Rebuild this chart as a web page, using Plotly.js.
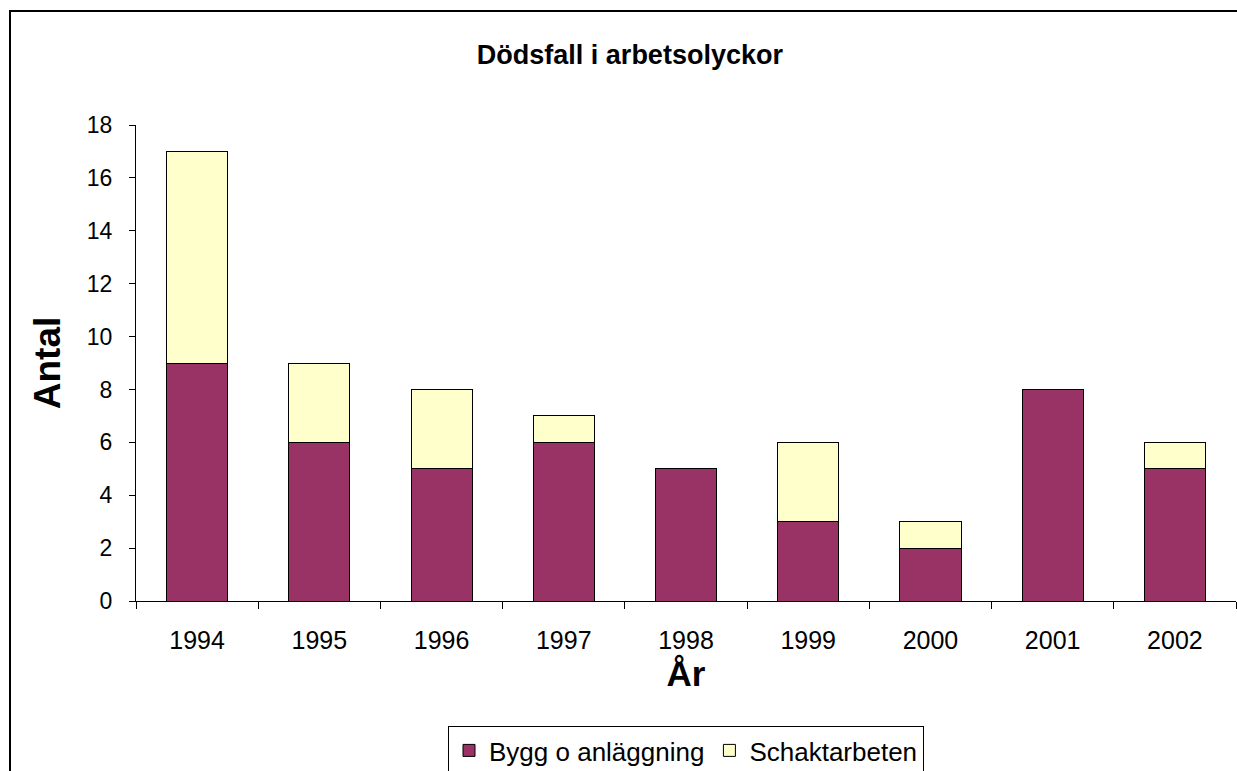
<!DOCTYPE html>
<html>
<head>
<meta charset="utf-8">
<script src="https://cdn.plot.ly/plotly-3.0.1.min.js"></script>
<style>
  html, body { margin: 0; padding: 0; background: #fff; }
  #chart { width: 1237px; height: 771px; }
</style>
</head>
<body>
<div id="chart"></div>
<script>
const years = ["1994", "1995", "1996", "1997", "1998", "1999", "2000", "2001", "2002"];
const byggAnlaggning = [9, 6, 5, 6, 5, 3, 2, 8, 5];
const schaktarbeten = [8, 3, 3, 1, 0, 3, 1, 0, 1];
const yTickValues = [0, 2, 4, 6, 8, 10, 12, 14, 16, 18];
const seriesNames = ["Bygg o anläggning", "Schaktarbeten"];

const FONT = "Liberation Sans, Arial, sans-serif";

const traces = [
  {
    type: "bar",
    name: seriesNames[0],
    x: years,
    y: byggAnlaggning,
    marker: { color: "#993366", line: { color: "#000000", width: 1 } },
    hoverinfo: "x+y+name"
  },
  {
    type: "bar",
    name: seriesNames[1],
    x: years,
    y: schaktarbeten,
    marker: { color: "#FFFFCC", line: { color: "#000000", width: 1 } },
    hoverinfo: "x+y+name"
  }
];

const layout = {
  width: 1237,
  height: 771,
  margin: { l: 136, r: 1, t: 125, b: 170, pad: 0, autoexpand: false },
  paper_bgcolor: "#ffffff",
  plot_bgcolor: "#ffffff",
  barmode: "stack",
  bargap: 0.5,
  font: { family: FONT, color: "#000000" },
  title: {
    text: "<b>Dödsfall i arbetsolyckor</b>",
    font: { family: FONT, size: 27, color: "#000000" },
    xref: "paper",
    x: 0.449,
    xanchor: "center",
    yref: "container",
    y: 1 - 55 / 771,
    yanchor: "middle"
  },
  xaxis: {
    type: "category",
    range: [-0.5, 8.5],
    automargin: false,
    showline: true,
    linecolor: "#000000",
    linewidth: 1,
    ticks: "outside",
    tickson: "boundaries",
    ticklen: 7,
    tickcolor: "#000000",
    tickfont: { family: FONT, size: 25, color: "#000000" },
    ticklabelstandoff: 17,
    showgrid: false,
    zeroline: false,
    title: {
      text: "<b>År</b>",
      font: { family: FONT, size: 35, color: "#000000" },
      standoff: 0
    },
    fixedrange: true
  },
  yaxis: {
    range: [0, 18],
    tickvals: yTickValues,
    automargin: false,
    showline: true,
    linecolor: "#000000",
    linewidth: 1,
    ticks: "outside",
    ticklen: 6,
    tickcolor: "#000000",
    tickfont: { family: FONT, size: 23, color: "#000000" },
    ticklabelstandoff: 12,
    showgrid: false,
    zeroline: false,
    title: {
      text: "<b>Antal</b>",
      font: { family: FONT, size: 37, color: "#000000" },
      standoff: 14
    },
    fixedrange: true
  },
  showlegend: true,
  legend: {
    orientation: "h",
    xref: "paper",
    x: 0.5,
    xanchor: "center",
    yref: "paper",
    y: (601 - 726) / 476,
    yanchor: "top",
    bordercolor: "#000000",
    borderwidth: 1,
    bgcolor: "#ffffff",
    font: { family: FONT, size: 26, color: "#000000" },
    traceorder: "normal",
    itemwidth: 30
  },
  shapes: [
    {
      type: "rect",
      xref: "paper",
      yref: "paper",
      x0: (10 - 136) / 1100,
      x1: (1245 - 136) / 1100,
      y0: (601 - 790) / 476,
      y1: (601 - 11) / 476,
      line: { color: "#000000", width: 2 },
      fillcolor: "rgba(0,0,0,0)",
      layer: "below"
    }
  ]
};

Plotly.newPlot("chart", traces, layout, { displayModeBar: false, staticPlot: true });
</script>
</body>
</html>
